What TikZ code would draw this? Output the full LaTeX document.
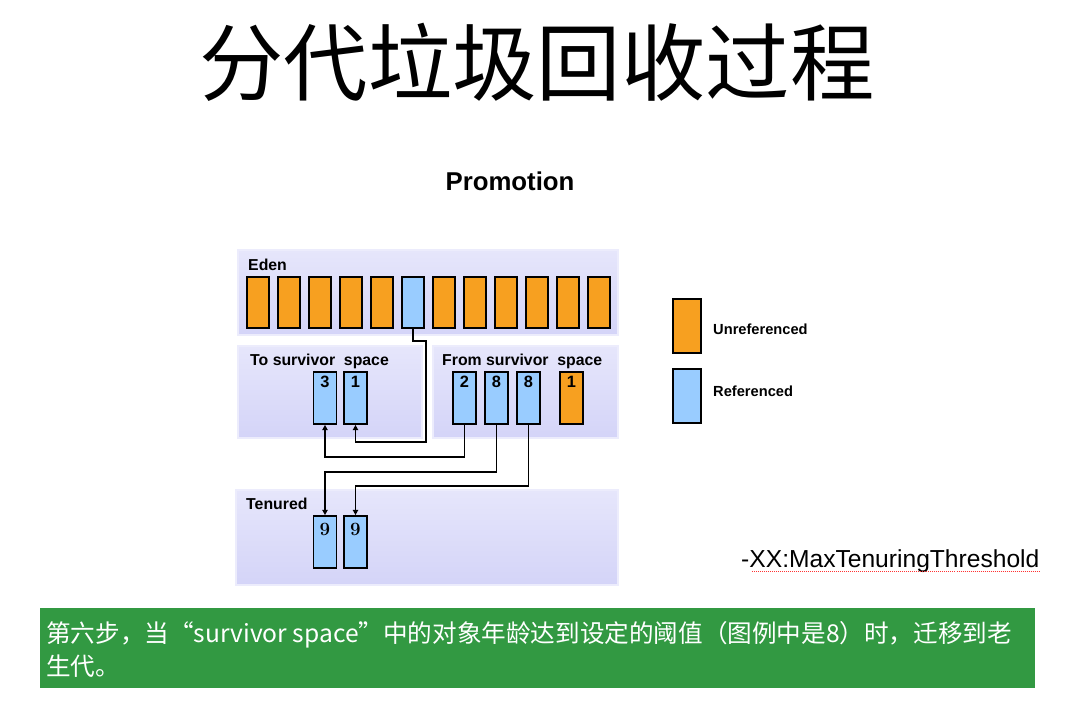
\documentclass[tikz,border=0pt]{standalone}
\usepackage{fontspec}
\setsansfont{Liberation Sans}
\newfontfamily\cjk{Noto Sans CJK SC}
\usetikzlibrary{arrows.meta,positioning}
\definecolor{unref}{RGB}{247,160,32}
\definecolor{refd}{RGB}{153,204,255}
\definecolor{spacetop}{RGB}{230,230,251}
\definecolor{spacebot}{RGB}{212,212,248}
\definecolor{spaceedge}{RGB}{236,236,252}
\definecolor{notegreen}{RGB}{50,153,66}
\tikzset{
  region/.style={draw=spaceedge, line width=0.6mm, top color=spacetop, bottom color=spacebot},
  regionlbl/.style={font=\sffamily\bfseries\fontsize{13.5}{15}\selectfont, anchor=base west, inner sep=0pt},
  obj/.style={draw=black, line width=0.5mm, minimum width=6.9mm, minimum height=15.6mm, inner sep=0pt},
  edenobj/.style={obj, minimum width=6.6mm, minimum height=15.3mm},
  num/.style={label={[anchor=north, inner sep=4pt, font=\sffamily\bfseries\fontsize{14}{15}\selectfont]north:#1}},
  numnine/.style={label={[anchor=north, inner sep=7pt, font=\rmfamily\bfseries\fontsize{16}{17}\selectfont]north:#1}},
  link/.style={line width=0.55mm, -{Triangle[length=1.6mm,width=1.6mm]}},
  legendlbl/.style={font=\sffamily\bfseries\fontsize{12.5}{14}\selectfont, anchor=west, inner sep=0pt}
}

\begin{document}
\begin{tikzpicture}[x=0.3mm,y=-0.3mm]
        \useasboundingbox (0,0) rectangle (1073,709);
        \node (title) at (537,62) {\cjk\fontsize{72}{76}\selectfont 分代垃圾回收过程};
        \node (promo) at (510,181) {\sffamily\bfseries\fontsize{22}{24}\selectfont Promotion};

        \path[region] (238,250) rectangle (618,335);
        \path[region] (238,346) rectangle (422,438);
        \path[region] (433,346) rectangle (618,438);
        \path[region] (236,490) rectangle (618,585);
        \node[regionlbl] (edenlbl) at (248,271) {Eden};
        \node[regionlbl] (tolbl) at (250,366) {To survivor\ \ space};
        \node[regionlbl] (fromlbl) at (442,366) {From survivor\ \ space};
        \node[regionlbl] (tenlbl) at (246,510) {Tenured};

        \foreach \i in {1,...,12}{
          \ifnum\i=6 \def\c{refd}\else\def\c{unref}\fi
          \node[edenobj, fill=\c] (e\i) at ({258+31*(\i-1)},302.5) {};
        }
        \node[obj, fill=refd, num=3] (t3) at (325,398) {};
        \node[obj, fill=refd, num=1] (t1) at (355.5,398) {};
        \node[obj, fill=refd, num=2] (f2) at (464.5,398) {};
        \node[obj, fill=refd, num=8] (f8a) at (496.5,398) {};
        \node[obj, fill=refd, num=8] (f8b) at (528.5,398) {};
        \node[obj, fill=unref, num=1] (f1) at (571.5,398) {};
        \node[obj, fill=refd, numnine=9] (n9a) at (325,542) {};
        \node[obj, fill=refd, numnine=9] (n9b) at (355.5,542) {};

        \draw[link] (e6.south) -- (e6.south |- 0,341) -- (426,341) -- (426,442) -- (t1.south |- 0,442) -- (t1.south);
        \draw[link] (f2.south) -- (f2.south |- 0,457) -- (t3.south |- 0,457) -- (t3.south);
        \draw[link] (f8a.south) -- (f8a.south |- 0,472) -- (n9a.north |- 0,472) -- (n9a.north);
        \draw[link] (f8b.south) -- (f8b.south |- 0,486) -- (n9b.north |- 0,486) -- (n9b.north);

        \node[obj, fill=unref, minimum width=8.4mm, minimum height=16.2mm] (keyunref) at (687,326) {};
        \node[obj, fill=refd, minimum width=8.4mm, minimum height=16.2mm] (keyref) at (687,396) {};
        \node[legendlbl] (unreflbl) at (713,329) {Unreferenced};
        \node[legendlbl] (reflbl) at (713,391) {Referenced};

        \node[anchor=west, inner sep=0pt] (flag) at (741,561) {\sffamily\fontsize{21}{24}\selectfont -XX:MaxTenuringThreshold};
        \draw[red!80, densely dotted, line width=0.25mm] (752,571) -- (1040,571);

        \fill[notegreen] (40,608) rectangle (1035,688);
        \node[anchor=west, align=left, inner sep=0pt, text=white, font=\cjk\fontsize{21}{28}\selectfont] (note) at (46,649.5)
          {第六步，当“survivor space”中的对象年龄达到设定的阈值（图例中是8）时，迁移到老\\生代。};
 \end{tikzpicture}
\end{document}
